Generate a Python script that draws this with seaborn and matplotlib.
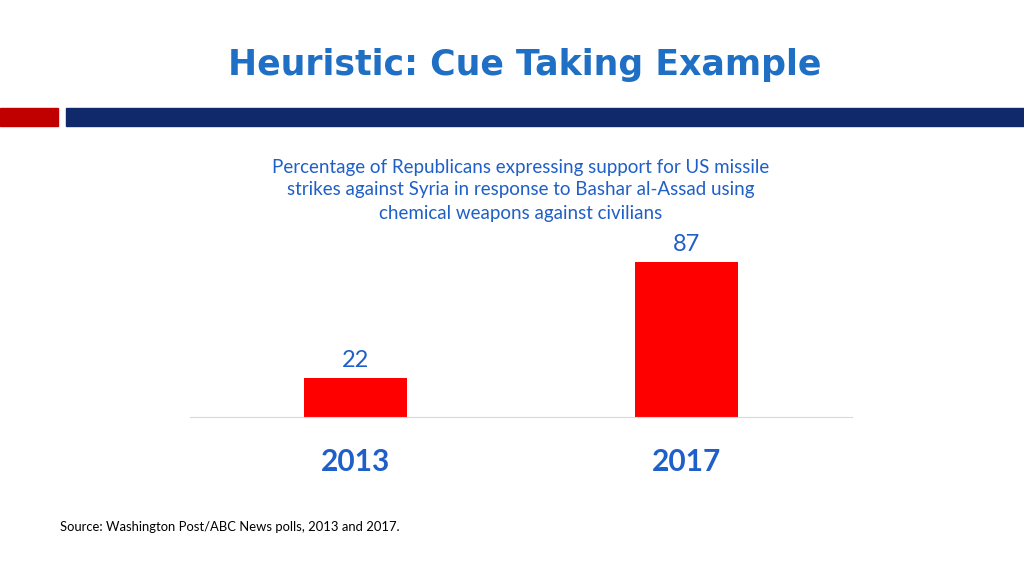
import matplotlib
matplotlib.use("Agg")
import matplotlib.pyplot as plt
import seaborn as sns
import pandas as pd

years = ["2013", "2017"]
support = [22, 87]

W, H = 1024, 576
fig = plt.figure(figsize=(10.24, 5.76), dpi=100)
fig.patch.set_facecolor("white")
blue = "#1F5FC8"

fig.text(525/W, 1-65/H, "Heuristic: Cue Taking Example", ha="center", va="center",
         fontsize=25, fontweight="bold", color="#1F6FC5", family="DejaVu Sans")
fig.patches.append(plt.Rectangle((0, 1-126/H), 58/W, 18/H, transform=fig.transFigure, color="#C00000"))
fig.patches.append(plt.Rectangle((66/W, 1-126/H), 1-66/W, 18/H, transform=fig.transFigure, color="#10296B"))
for y, t in [(167, "Percentage of Republicans expressing support for US missile"),
             (190, "strikes against Syria in response to Bashar al-Assad using"),
             (213, "chemical weapons against civilians")]:
    fig.text(521/W, 1-y/H, t, ha="center", va="center", fontsize=13.5, color=blue, family="Lato")

ax = fig.add_axes([190/W, 1-417/H, 662/W, 178/H])
df = pd.DataFrame({"year": years, "support": support})
sns.barplot(data=df, x="year", y="support", color="#FF0000", saturation=1, width=0.314, ax=ax)
ax.set_xlim(-0.5, 1.5)
ax.set_ylim(0, 100)
for i, v in enumerate(support):
    ax.text(i, v + 4, str(v), ha="center", va="bottom", fontsize=17, color=blue, family="Lato")
for s in ["top", "right", "left"]:
    ax.spines[s].set_visible(False)
ax.spines["bottom"].set_color("#D9D9D9")
ax.set_yticks([])
ax.set_xlabel(""); ax.set_ylabel("")
ax.tick_params(axis="x", length=0, pad=22)
for lbl in ax.get_xticklabels():
    lbl.set_fontsize(21.5); lbl.set_fontweight("bold"); lbl.set_color(blue); lbl.set_family("Lato")

fig.text(60/W, 1-527/H, "Source: Washington Post/ABC News polls, 2013 and 2017.", ha="left", va="center",
         fontsize=9.4, color="black", family="Lato")
fig.savefig("out.png", dpi=100)
